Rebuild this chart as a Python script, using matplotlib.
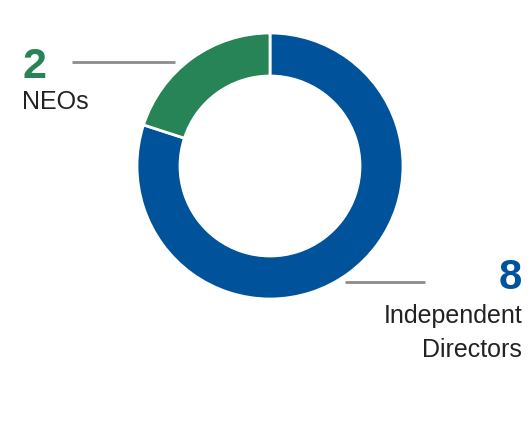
import matplotlib
matplotlib.use("Agg")
import matplotlib.pyplot as plt

categories = ["Independent Directors", "NEOs"]
values = [8, 2]
colors = ["#00529B", "#268457"]

W, H = 532, 432
fig = plt.figure(figsize=(W / 100, H / 100), dpi=100)
ax = fig.add_axes([0, 0, 1, 1])
ax.set_xlim(0, W)
ax.set_ylim(0, H)
ax.set_aspect("equal")
ax.axis("off")

cx, cy, R = 270, H - 166, 133
ax.pie(values, colors=colors, startangle=90, counterclock=False,
       center=(cx, cy), radius=R, frame=True,
       wedgeprops=dict(width=43, edgecolor="white", linewidth=2))
ax.set_xlim(0, W)
ax.set_ylim(0, H)
ax.axis("off")

# leader lines
ax.plot([72, 175], [H - 62, H - 62], color="#8c8c8c", lw=2, solid_capstyle="butt")
ax.plot([345, 425], [H - 282, H - 282], color="#8c8c8c", lw=2, solid_capstyle="butt")

numfam = ["Liberation Sans Narrow", "Liberation Sans", "DejaVu Sans"]
txtfam = ["Liberation Sans", "DejaVu Sans"]

ax.text(23, H - 78, str(values[1]), color=colors[1], fontsize=31, fontweight="bold",
        family=numfam, ha="left", va="baseline")
ax.text(22, H - 109, categories[1], color="#222222", fontsize=18,
        family=txtfam, ha="left", va="baseline")

ax.text(522, H - 289, str(values[0]), color=colors[0], fontsize=30, fontweight="bold",
        family=numfam, ha="right", va="baseline")
ax.text(522, H - 323, "Independent", color="#222222", fontsize=18,
        family=txtfam, ha="right", va="baseline")
ax.text(522, H - 357, "Directors", color="#222222", fontsize=18,
        family=txtfam, ha="right", va="baseline")

fig.savefig("out.png", dpi=100, facecolor="white")
